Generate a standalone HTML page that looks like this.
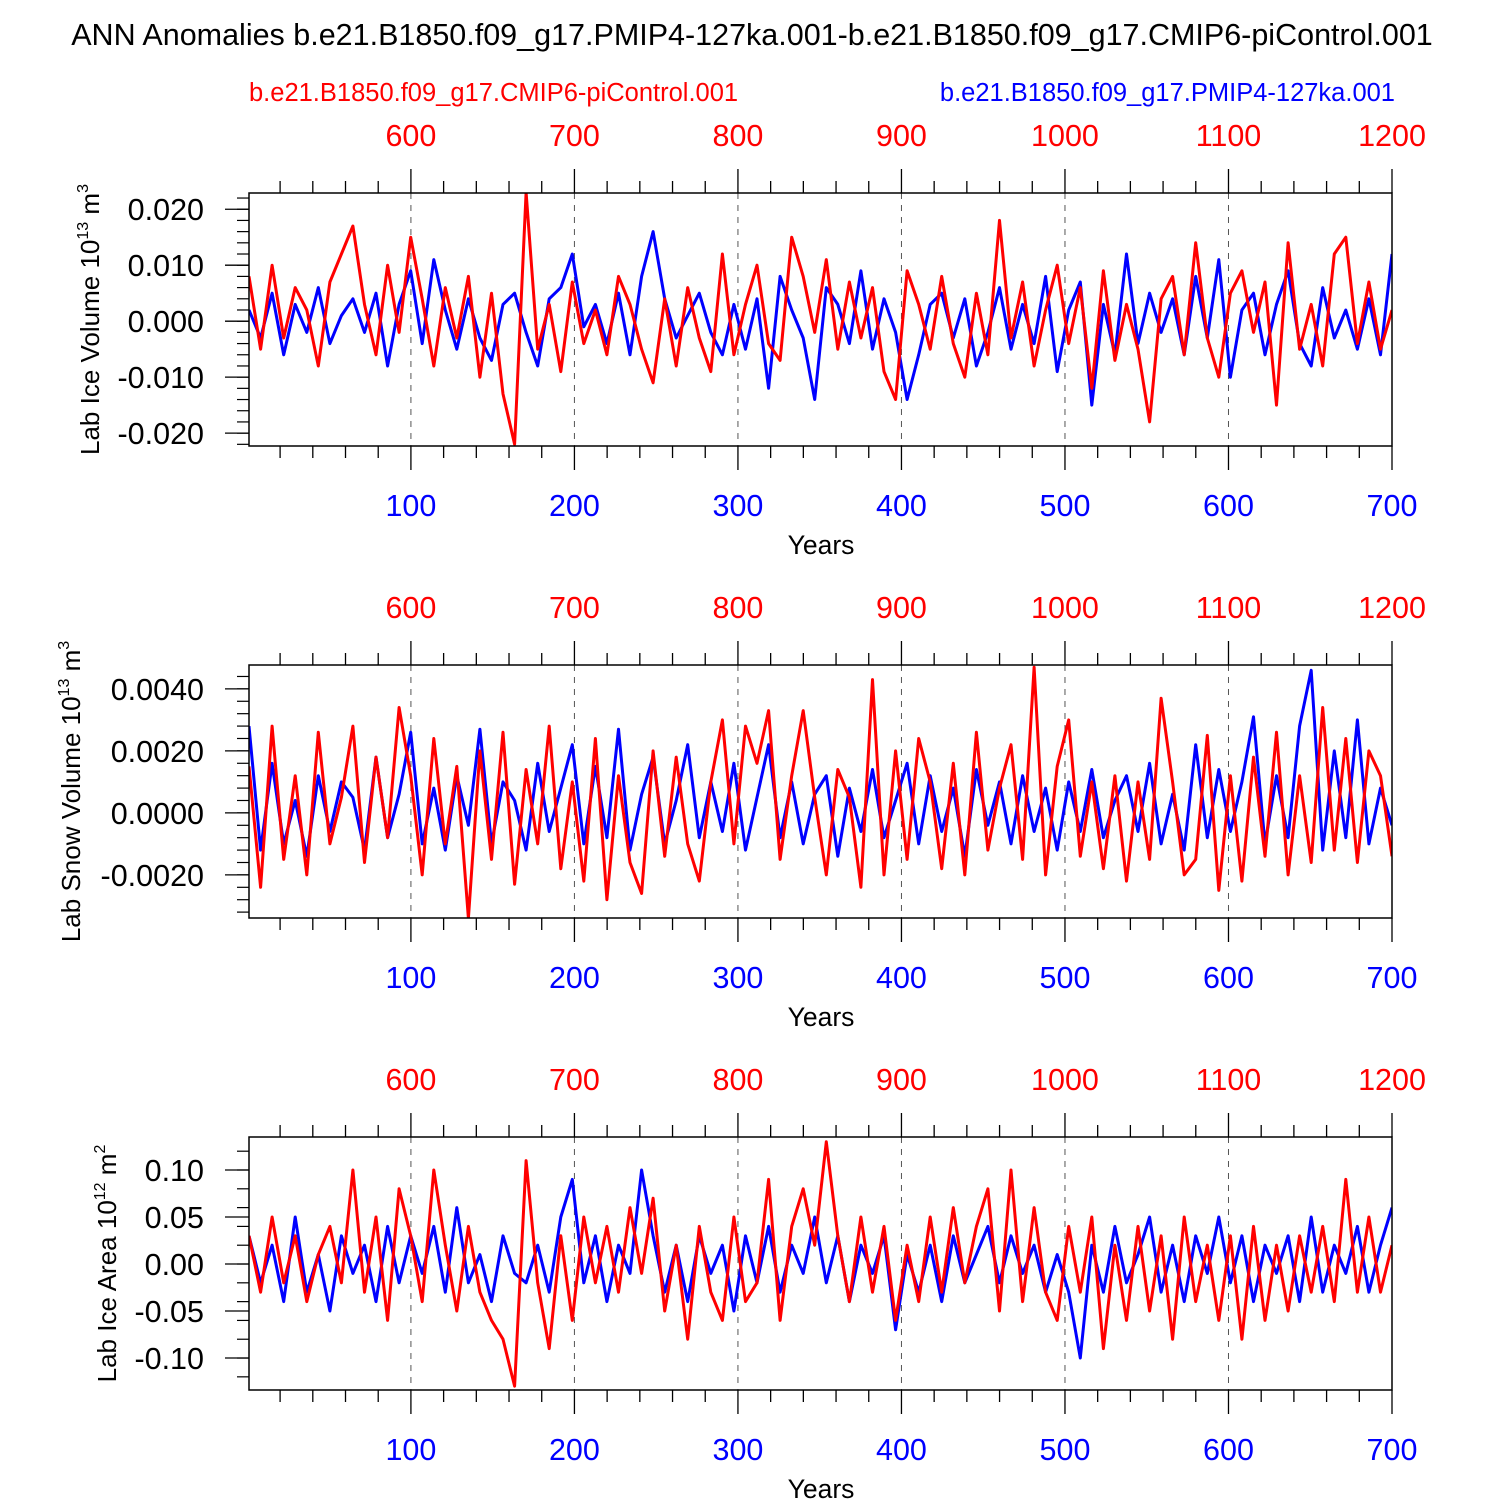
<!DOCTYPE html>
<html><head><meta charset="utf-8"><style>
html,body{margin:0;padding:0;background:#fff;}
svg{display:block;font-family:"Liberation Sans",Arial,sans-serif;}
</style></head><body>
<svg id="chart" width="1500" height="1500" xmlns="http://www.w3.org/2000/svg">
<text x="752" y="45" font-size="30.5" text-anchor="middle">ANN Anomalies b.e21.B1850.f09_g17.PMIP4-127ka.001-b.e21.B1850.f09_g17.CMIP6-piControl.001</text>
<text x="249" y="101" font-size="25.5" fill="#f00">b.e21.B1850.f09_g17.CMIP6-piControl.001</text>
<text x="1395" y="101" font-size="25.5" fill="#00f" text-anchor="end">b.e21.B1850.f09_g17.PMIP4-127ka.001</text>
</svg>
<script>
const blueYears=[1,700];
const bottomTicks=[100,200,300,400,500,600,700];
const topTicks=[600,700,800,900,1000,1100,1200];
const blue1=[2,-3,5,-6,3,-2,6,-4,1,4,-2,5,-8,3,9,-4,11,2,-5,4,-3,-7,3,5,-2,-8,4,6,12,-1,3,-4,5,-6,8,16,4,-3,1,5,-2,-6,3,-5,4,-12,8,2,-3,-14,6,3,-4,9,-5,4,-2,-14,-6,3,5,-3,4,-8,-2,6,-5,3,-4,8,-9,2,7,-15,3,-6,12,-4,5,-2,4,-6,8,-3,11,-10,2,5,-6,3,9,-4,-8,6,-3,2,-5,4,-6,12];
const red1=[8,-5,10,-3,6,2,-8,7,12,17,3,-6,10,-2,15,4,-8,6,-3,8,-10,5,-13,-22,23,-5,3,-9,7,-4,2,-6,8,3,-5,-11,4,-8,6,-3,-9,12,-6,3,10,-4,-7,15,8,-2,11,-5,7,-3,6,-9,-14,9,3,-5,8,-4,-10,5,-6,18,-3,7,-8,2,10,-4,6,-12,9,-7,3,-5,-18,4,8,-6,14,-3,-10,5,9,-2,7,-15,14,-5,3,-8,12,15,-4,7,-5,2];
const blue2=[2.8,-1.2,1.6,-1,0.4,-1.4,1.2,-0.6,1,0.5,-1.2,1.8,-0.8,0.6,2.6,-1,0.8,-1.2,1.2,-0.4,2.7,-1,1,0.4,-1.2,1.6,-0.6,0.8,2.2,-1,1.5,-0.8,2.7,-1.2,0.6,1.8,-1,0.4,2.2,-0.8,1,-0.6,1.6,-1.2,0.5,2.2,-0.8,1,-1,0.6,1.2,-1.4,0.8,-0.6,1.4,-0.8,0.4,1.6,-1,1.2,-0.6,0.8,-1.4,1.4,-0.4,1,-1,1.2,-0.6,0.8,-1.2,1,-0.6,1.4,-0.8,0.4,1.2,-0.6,1.6,-1,0.6,-1.2,2.2,-0.8,1.4,-0.6,1,3.1,-1,1.2,-0.8,2.8,4.6,-1.2,2,-0.8,3.0,-1,0.8,-0.4];
const red2=[1.5,-2.4,2.8,-1.5,1.2,-2,2.6,-1,0.5,2.8,-1.6,1.8,-0.8,3.4,1.2,-2,2.4,-1,1.5,-3.4,2,-1.5,2.6,-2.3,1.4,-1,2.8,-1.8,1,-2.2,2.4,-2.8,1.2,-1.6,-2.6,2,-1.4,1.8,-1,-2.2,1,3,-1,2.8,1.6,3.3,-1.5,1.2,3.3,0.5,-2,1.4,0.5,-2.4,4.3,-2,2,-1.5,2.4,1,-1.8,1.6,-2,2.6,-1.2,0.8,2.2,-1.5,4.7,-2,1.5,3,-1.4,1,-1.8,1.2,-2.2,1,-1.5,3.7,1,-2,-1.5,2.5,-2.5,1.2,-2.2,1.8,-1.4,2.6,-2,1.2,-1.6,3.4,-1.2,2.4,-1.6,2,1.2,-1.4];
const blue3=[3,-2,2,-4,5,-3,1,-5,3,-1,2,-4,4,-2,3,-1,4,-3,6,-2,1,-4,3,-1,-2,2,-3,5,9,-2,3,-4,2,-1,10,3,-3,2,-4,3,-1,2,-5,3,-2,4,-3,2,-1,5,-2,3,-4,2,-1,3,-7,1,-3,2,-4,3,-2,1,4,-2,3,-1,2,-3,1,-3,-10,2,-3,4,-2,1,5,-3,2,-4,3,-1,5,-2,3,-4,2,-1,3,-4,5,-3,2,-1,4,-3,2,6];
const red3=[3,-3,5,-2,3,-4,1,4,-2,10,-3,5,-6,8,3,-4,10,2,-5,4,-3,-6,-8,-13,11,-2,-9,3,-6,5,-2,4,-3,6,-1,7,-5,2,-8,4,-3,-6,5,-4,-2,9,-6,4,8,2,13,3,-4,5,-3,4,-6,2,-4,5,-3,6,-2,4,8,-5,10,-4,6,-3,-6,4,-3,5,-9,2,-6,4,-5,3,-8,5,-4,2,-6,3,-8,4,-6,2,-5,3,-3,4,-4,9,-3,5,-3,2];
const yTicks1=["0.020","0.010","0.000","-0.010","-0.020"];
const yTicks2=["0.0040","0.0020","0.0000","-0.0020"];
const yTicks3=["0.10","0.05","0.00","-0.05","-0.10"];

const svg=document.getElementById('chart');
const NS='http://www.w3.org/2000/svg';
function mk(tag,attrs,parent){const e=document.createElementNS(NS,tag);for(const k in attrs)e.setAttribute(k,attrs[k]);(parent||svg).appendChild(e);return e;}
const L=249,R=1392;
function xs(year){return 247.4+(year)*(R-247.4)/700;}

function panel(idx,top,bottom,vTop,vBot,ticks,minorStep,scale,blue,red,title,unitSup,unit){
  const g=mk('g',{});
  
  
  const ys=v=>top+(vTop-v)*(bottom-top)/(vTop-vBot);
  for(const t of bottomTicks){ if(t>=700) continue;
    const gl=mk('line',{x1:xs(t),x2:xs(t),y1:top,y2:bottom,stroke:'#555','stroke-width':1,'stroke-dasharray':'6,6'},g);
    
    
  }
  const cp=mk('clipPath',{id:'cp'+idx},g);
  mk('rect',{x:L,y:top,width:R-L,height:bottom-top},cp);
  const sg=mk('g',{'clip-path':'url(#cp'+idx+')'},g);
  
  
  const draw=(arr,color,name)=>{const n=arr.length;let d='';arr.forEach((v,i)=>{const yr=blueYears[0]+i*(blueYears[1]-blueYears[0])/(n-1);d+=(i?'L':'M')+xs(yr).toFixed(1)+' '+ys(v*scale).toFixed(1);});
    const p=mk('path',{d:d,fill:'none',stroke:color,'stroke-width':3,'stroke-linejoin':'round'},sg);
    
    };
  draw(blue,'#00f','pmip-series');
  draw(red,'#f00','control-series');
  const fr=mk('rect',{x:L,y:top,width:R-L,height:bottom-top,fill:'none',stroke:'#000','stroke-width':1.5},g);
  
  
  for(let yr=20;yr<=700;yr+=20){
    const major=yr%100===0, len=major?24:12;
    mk('line',{x1:xs(yr),x2:xs(yr),y1:bottom,y2:bottom+len,stroke:'#000','stroke-width':1.3},g);
    mk('line',{x1:xs(yr),x2:xs(yr),y1:top,y2:top-len,stroke:'#000','stroke-width':1.3},g);
  }
  bottomTicks.forEach(t=>{const tx=mk('text',{x:xs(t),y:bottom+70,'font-size':30.5,fill:'#00f','text-anchor':'middle'},g);tx.textContent=t;
    
    });
  topTicks.forEach(t=>{const tx=mk('text',{x:xs(t-500),y:top-47,'font-size':30.5,fill:'#f00','text-anchor':'middle'},g);tx.textContent=t;
    
    });
  const xt=mk('text',{x:821,y:bottom+108,'font-size':26.5,'text-anchor':'middle'},g);xt.textContent='Years';
  
  
  for(let v=Math.ceil(vBot/minorStep)*minorStep;v<=vTop+1e-12;v+=minorStep){
    mk('line',{x1:L,x2:L-12,y1:ys(v),y2:ys(v),stroke:'#000','stroke-width':1.2},g);
  }
  ticks.forEach(s=>{const v=parseFloat(s);
    mk('line',{x1:L,x2:L-24,y1:ys(v),y2:ys(v),stroke:'#000','stroke-width':1.3},g);
    const tx=mk('text',{x:204,y:ys(v)+11,'font-size':30.5,'text-anchor':'end'},g);tx.textContent=s;
    
    });
  const cy=(top+bottom)/2;
  const yt=mk('text',{transform:`translate(${title.x},${cy}) rotate(-90)`,'font-size':26,'text-anchor':'middle'},g);
  yt.innerHTML=title.t+' 10<tspan font-size="16" dy="-11">'+unitSup+'</tspan><tspan dy="11"> '+unit+'</tspan><tspan font-size="16" dy="-11">'+title.sup+'</tspan>';
  
  
}
panel(1,193,446,0.0229,-0.0223,yTicks1,0.002,0.001,blue1,red1,{x:99,t:'Lab Ice Volume',sup:'3'},'13','m');
panel(2,665,918,0.00477,-0.00339,yTicks2,0.0004,0.001,blue2,red2,{x:80,t:'Lab Snow Volume',sup:'3'},'13','m');
panel(3,1137,1390,0.1351,-0.134,yTicks3,0.02,0.01,blue3,red3,{x:116,t:'Lab Ice Area',sup:'2'},'12','m');
</script>
</body></html>
